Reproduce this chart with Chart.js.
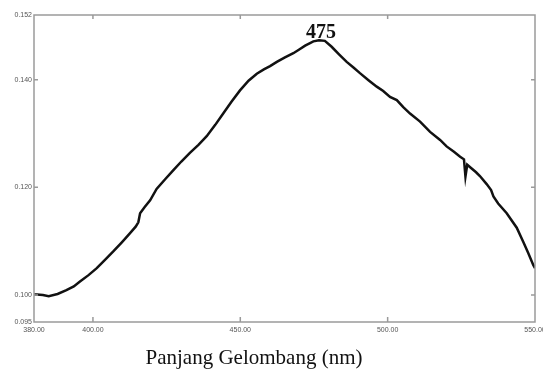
<!DOCTYPE html>
<html>
<head>
<meta charset="utf-8">
<script src="https://cdn.jsdelivr.net/npm/chart.js@4.4.1/dist/chart.umd.min.js"></script>
<style>
  html, body { margin: 0; padding: 0; background: #fff; }
  canvas { display: block; }
</style>
</head>
<body>
<canvas id="grafico" width="543" height="371"></canvas>
<script>
// data
const wavelengths = [
  380.0, 381.0, 383.0, 385.0, 388.0, 391.0, 393.5, 395.6, 398.5, 401.3,
  404.0, 406.9, 409.8, 412.6, 414.5, 415.4, 416.0, 417.5, 419.4, 421.6,
  424.5, 427.3, 430.0, 432.9, 435.8, 438.6, 441.5, 444.2, 447.0, 449.9,
  452.8, 455.6, 458.0, 460.1, 462.4, 465.0, 468.0, 470.0, 472.0, 474.8,
  476.7, 478.7, 481.0, 483.5, 486.1, 488.5, 490.6, 493.5, 496.3, 498.5,
  500.8, 503.1, 505.3, 507.6, 511.0, 514.4, 517.8, 520.0, 522.5, 524.6,
  525.9, 526.4, 527.0, 528.5, 530.0, 531.3, 533.6, 535.1, 535.9, 537.5,
  540.4, 543.8, 546.0, 547.7, 549.4, 550.0
];
const absorbance = [
  0.1001, 0.1001, 0.1000, 0.0998, 0.1002, 0.1009, 0.1016, 0.1025, 0.1037, 0.1050,
  0.1065, 0.1081, 0.1098, 0.1115, 0.1127, 0.1135, 0.1152, 0.1163, 0.1176, 0.1197,
  0.1215, 0.1232, 0.1248, 0.1264, 0.1279, 0.1295, 0.1316, 0.1337, 0.1359, 0.1380,
  0.1398, 0.1411, 0.1419, 0.1425, 0.1433, 0.1441, 0.1449, 0.1456, 0.1463, 0.1471,
  0.1473, 0.1472, 0.1461, 0.1447, 0.1433, 0.1422, 0.1412, 0.1399, 0.1387, 0.1379,
  0.1368, 0.1362, 0.1349, 0.1337, 0.1322, 0.1303, 0.1288, 0.1276, 0.1266, 0.1257,
  0.1252, 0.1220, 0.1242, 0.1235, 0.1228, 0.1221, 0.1206, 0.1195, 0.1183, 0.1170,
  0.1152, 0.1125, 0.1099, 0.1078, 0.1056, 0.1050
];
const xTicks = [380, 400, 450, 500, 550];
const yTicks = [0.095, 0.100, 0.120, 0.140, 0.152];
const peakLabel = '475';
const xTitle = 'Panjang Gelombang (nm)';

const axisColor = '#9a9a9a';

// box + inward tick marks + peak label + axis title
const decor = {
  id: 'decor',
  afterDraw(chart) {
    const c = chart.ctx;
    const a = chart.chartArea;
    const xs = chart.scales.x, ys = chart.scales.y;
    c.save();
    c.strokeStyle = axisColor;
    c.lineWidth = 1.5;
    c.strokeRect(a.left, a.top, a.right - a.left, a.bottom - a.top);
    c.beginPath();
    xTicks.slice(1, -1).forEach(v => {
      const px = xs.getPixelForValue(v);
      c.moveTo(px, a.bottom); c.lineTo(px, a.bottom - 5);
      c.moveTo(px, a.top); c.lineTo(px, a.top + 4);
    });
    yTicks.slice(1, -1).forEach(v => {
      const py = ys.getPixelForValue(v);
      c.moveTo(a.left, py); c.lineTo(a.left + 4, py);
      c.moveTo(a.right, py); c.lineTo(a.right - 4, py);
    });
    c.stroke();

    // peak label above the highest point
    let iMax = 0;
    absorbance.forEach((v, i) => { if (v > absorbance[iMax]) iMax = i; });
    const px = xs.getPixelForValue(wavelengths[iMax]);
    const py = ys.getPixelForValue(absorbance[iMax]);
    c.fillStyle = '#111';
    c.font = 'bold 20px "Liberation Serif", "Times New Roman", serif';
    c.textAlign = 'center';
    c.textBaseline = 'alphabetic';
    c.fillText(peakLabel, px + 2, py - 2);

    c.font = '21px "Liberation Serif", "Times New Roman", serif';
    c.fillText(xTitle, 254, 364);
    c.restore();
  }
};

const ctx = document.getElementById('grafico').getContext('2d');
const myChart = new Chart(ctx, {
  type: 'line',
  data: {
    datasets: [{
      data: wavelengths.map((w, i) => ({ x: w, y: absorbance[i] })),
      borderColor: '#111',
      borderWidth: 2.5,
      pointRadius: 0,
      tension: 0,
      fill: false
    }]
  },
  options: {
    responsive: false,
    animation: false,
    layout: { padding: { top: 15, right: 8, left: 0, bottom: 0 } },
    plugins: { legend: { display: false }, tooltip: { enabled: false } },
    scales: {
      x: {
        type: 'linear',
        min: 380, max: 550,
        grid: { display: false, drawTicks: false, tickLength: 0 },
        border: { display: false },
        afterBuildTicks: s => { s.ticks = xTicks.map(v => ({ value: v })); },
        afterFit: s => { s.height = 49; s.paddingLeft = 0; s.paddingRight = 0; },
        ticks: {
          autoSkip: false, maxRotation: 0, padding: 4,
          color: '#555',
          font: { family: '"Liberation Sans", Arial, sans-serif', size: 7 },
          callback: v => Number(v).toFixed(2)
        }
      },
      y: {
        min: 0.095, max: 0.152,
        grid: { display: false, drawTicks: false, tickLength: 0 },
        border: { display: false },
        afterBuildTicks: s => { s.ticks = yTicks.map(v => ({ value: v })); },
        afterFit: s => { s.width = 34; },
        ticks: {
          autoSkip: false, padding: 2,
          color: '#555',
          font: { family: '"Liberation Sans", Arial, sans-serif', size: 7 },
          callback: v => Number(v).toFixed(3)
        }
      }
    }
  },
  plugins: [decor]
});
</script>
</body>
</html>
